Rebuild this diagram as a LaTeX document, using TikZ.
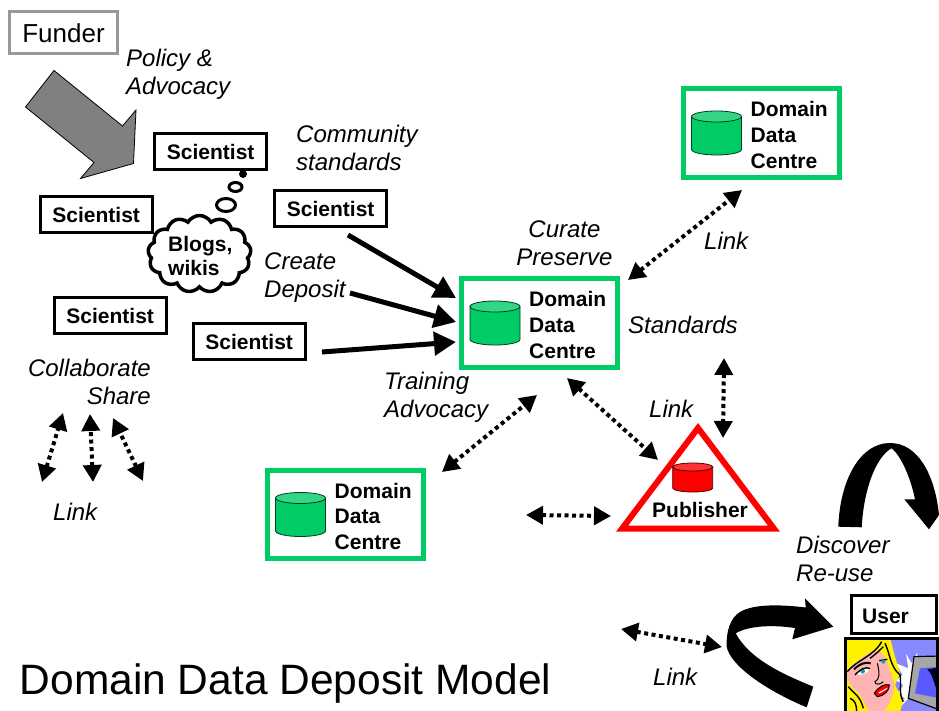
\documentclass[tikz,border=0pt]{standalone}
\usepackage{fontspec}
\setmainfont{Liberation Sans}
\usetikzlibrary{arrows.meta,shapes.symbols,shapes.geometric}
\definecolor{ddcgreen}{HTML}{00CC66}
\definecolor{ddctop}{HTML}{33D685}
\definecolor{pubred}{HTML}{FF0000}
\definecolor{pubtop}{HTML}{FF3333}
\definecolor{peri}{HTML}{8888FF}
\definecolor{skin}{HTML}{FFB4B4}
\tikzset{
  lab/.style={font=\fontsize{24}{28}\selectfont\itshape,inner sep=0pt,align=left,anchor=west},
  boldt/.style={font=\fontsize{21}{25.7}\selectfont\bfseries,inner sep=0pt,align=left},
  sci/.style={draw=black,line width=3pt,fill=white,minimum width=112pt,minimum height=36pt,inner sep=0pt,font=\fontsize{21}{24}\selectfont\bfseries},
  ddcbox/.style={draw=ddcgreen,line width=5pt,fill=white,minimum width=156pt,minimum height=88.5pt,inner sep=0pt},
  linkarrow/.style={line width=4pt,dash pattern=on 4pt off 3.5pt,{Triangle[length=17pt,width=18pt]}-{Triangle[length=17pt,width=18pt]}},
  deposit/.style={line width=5pt,-{Triangle[length=22pt,width=23pt]}},
  bubble/.style={draw=black,line width=3pt,fill=white,ellipse,inner sep=0pt},
}
\newcommand{\cylshape}[7]{% cx, top, bottom, halfwidth, ry, body, top colour
  \filldraw[fill=#6,draw=black!70!#6,line width=0.8pt]
    (#1-#4,#2) -- (#1-#4,#3) arc[x radius=#4,y radius=#5,start angle=180,end angle=0] -- (#1+#4,#2) -- cycle;
  \filldraw[fill=#7,draw=black!70!#6,line width=0.8pt] (#1,#2) ellipse[x radius=#4,y radius=#5];
}
\newcommand{\ddcnode}[3]{% name, cx, cy
  \node[ddcbox] (#1) at (#2,#3) {};
  \pgfmathsetmacro{\cylx}{#2-44.5}
  \pgfmathsetmacro{\cylt}{#3-16.5}
  \pgfmathsetmacro{\cylb}{#3+16.5}
  \cylshape{\cylx}{\cylt}{\cylb}{25}{5.5}{ddcgreen}{ddctop}
  \pgfmathsetmacro{\txtx}{#2-10.5}
  \pgfmathsetmacro{\txty}{#3+1.8}
  \node[boldt,anchor=west] (#1text) at (\txtx,\txty) {Domain\\Data\\Centre};
}
\begin{document}
\begin{tikzpicture}[x=1pt,y=-1pt]
\useasboundingbox (0,0) rectangle (939,711);
% Funder
\node[draw=black!40,line width=3pt,fill=white,minimum width=108pt,minimum height=42pt,inner sep=0pt,font=\fontsize{26}{30}\selectfont] (funder) at (63.5,33) {\raisebox{-1.5pt}{Funder}};
\filldraw[fill=black!50,draw=black,line width=0.8pt] (54,70.5) -- (25.5,107) -- (94,162.5) -- (80.5,178.5) -- (133.5,163.5) -- (136,110) -- (122.5,126) -- cycle;
\node[lab] (policy) at (126,74) {Policy \&\\Advocacy};
% Scientists
\node[sci] (s1) at (210.7,152) {\raisebox{-1pt}{Scientist}};
\node[sci] (s2) at (96.2,214.5) {\raisebox{-1pt}{Scientist}};
\node[sci] (s3) at (330.7,208.5) {\raisebox{-1pt}{Scientist}};
\node[sci] (s4) at (110.2,315.5) {\raisebox{-1pt}{Scientist}};
\node[sci] (s5) at (249.2,341.5) {\raisebox{-1pt}{Scientist}};
% Cloud
\node[cloud,cloud puffs=13,cloud puff arc=120,aspect=1.35,draw=black,line width=3.5pt,fill=white,inner sep=0pt,minimum width=103pt,minimum height=77pt] (cloud) at (199.5,254) {};
\node[boldt,anchor=west,font=\fontsize{21}{24}\selectfont\bfseries] (blogs) at (168,256) {Blogs,\\wikis};
\node[bubble,minimum width=19pt,minimum height=13pt] (b1) at (226,205) {};
\node[bubble,minimum width=13pt,minimum height=9pt] (b2) at (235.5,187) {};
\node[circle,fill=black,minimum size=8pt,inner sep=0pt] (b3) at (243,174) {};
% Labels
\node[lab] (community) at (296,148) {Community\\standards};
\node[lab,align=center,anchor=center] (curate) at (564.5,243) {Curate\\Preserve};
\node[lab] (create) at (264,278) {Create\\Deposit};
\node[lab] (standards) at (628,325) {Standards};
\node[lab] (link1) at (704,241) {Link};
\node[lab] (training) at (384,397) {Training\\Advocacy};
\node[lab] (link2) at (649,409) {Link};
\node[lab,align=right,anchor=east] (collab) at (151,382) {Collaborate\\Share};
\node[lab] (link3) at (53,512) {Link};
\node[lab] (discover) at (796,559) {Discover\\Re-use};
\node[lab] (link4) at (653,677) {Link};
\node[font=\fontsize{42.5}{48}\selectfont,inner sep=0pt,anchor=west] (title) at (19.5,684) {Domain Data Deposit Model};
% Data centres
\ddcnode{dc1}{539.5}{323}
\ddcnode{dc2}{761}{133}
\ddcnode{dc3}{345}{514.5}
% Publisher
\draw[pubred,line width=6pt,miter limit=10,fill=white] (622,528.7) -- (698,428) -- (774,528.7) -- cycle;
\cylshape{692.7}{467}{488}{20}{4}{pubred}{pubtop}
\node[boldt,anchor=center] (publisher) at (700,510) {Publisher};
% Deposit arrows
\coordinate (d1a) at (348,235); \coordinate (d1b) at (456,298);
\coordinate (d2a) at (350,293); \coordinate (d2b) at (456,322);
\coordinate (d3a) at (322,352); \coordinate (d3b) at (456,342);
\draw[deposit] (d1a) -- (d1b);
\draw[deposit] (d2a) -- (d2b);
\draw[deposit] (d3a) -- (d3b);
% Link arrows
\coordinate (l1a) at (628,280); \coordinate (l1b) at (742,190);
\coordinate (l2a) at (567,378); \coordinate (l2b) at (658,460);
\coordinate (l3a) at (442,472); \coordinate (l3b) at (537,395);
\coordinate (l4a) at (526,515); \coordinate (l4b) at (611,516);
\coordinate (l5a) at (724,358); \coordinate (l5b) at (723,438);
\coordinate (l6a) at (621,629); \coordinate (l6b) at (722,647);
\coordinate (l7a) at (42,482); \coordinate (l7b) at (63,413);
\coordinate (l8a) at (93,482); \coordinate (l8b) at (90,414);
\coordinate (l9a) at (143,481); \coordinate (l9b) at (113,418);
\foreach \p/\q in {l1a/l1b,l2a/l2b,l3a/l3b,l4a/l4b,l5a/l5b,l6a/l6b,l7a/l7b,l8a/l8b,l9a/l9b}
  \draw[linkarrow] (\p) -- (\q);
% Curved arrows
\fill[black] (838.3,526.7) .. controls (840,480) and (860,443) .. (890,443) .. controls (918,443) and (935,475) .. (939,515)
  -- (929,529.3) -- (904.3,499.3) -- (915,499.3)
  .. controls (910,475) and (900,455) .. (891.7,448.3) .. controls (878,455) and (864,485) .. (861.7,527.3) -- cycle;
\fill[black] (833.3,626.7) -- (805,598.3) -- (805.7,607.5)
  .. controls (785,605) and (755,603) .. (740,612) .. controls (730,618) and (726,632) .. (726.7,646.7)
  .. controls (730,665) and (765,690) .. (806.7,707.3)
  -- (813.3,686.7)
  .. controls (785,675) and (750,660) .. (735.7,633.3) .. controls (750,625) and (775,625) .. (795,628)
  -- (792.3,639.3) -- cycle;
% User
\node[draw=black,line width=3pt,fill=white,minimum width=85pt,minimum height=38pt,inner sep=0pt] (user) at (893.5,614.5) {};
\node[boldt,anchor=west] (usertext) at (862,616) {User};
% Clip art
\begin{scope}
\clip (844,636) rectangle (939,711);
\begin{scope}[shift={(840,630)},x=0.3333pt,y=-0.3333pt]
\fill[peri] (14,22) rectangle (300,245);
\fill[white] (168,100) -- (205,115) -- (198,72) -- (215,100) -- (232,68) -- (232,90) -- (222,110) -- (210,200) -- (180,232) -- (168,225) -- (195,205) -- (172,192) -- (190,165) -- (168,150) -- (188,135) -- cycle;
\fill[yellow] (14,22) -- (150,22) -- (165,80) -- (180,130) -- (165,165) -- (190,215) -- (180,245) -- (14,245) -- cycle;
\fill[skin] plot[smooth cycle,tension=0.7] coordinates {(22,125) (60,88) (105,62) (135,82) (150,125) (162,165) (150,215) (125,245) (90,245) (60,195) (32,165)};
% hair strokes
\draw[black,line width=1.4pt] (22,125) .. controls (50,90) and (100,80) .. (125,35);
\draw[black,line width=1.4pt] (90,85) .. controls (110,70) and (120,60) .. (130,50);
\draw[black,line width=1.4pt] (135,40) .. controls (150,70) and (150,110) .. (180,135) .. controls (185,165) and (175,190) .. (190,215);
\draw[black,line width=1.4pt] (25,170) .. controls (40,190) and (60,195) .. (70,235);
\draw[black,line width=1.4pt] (30,205) .. controls (45,210) and (50,225) .. (50,245);
% brows and eyes
\draw[black,line width=2pt] (42,118) .. controls (60,100) and (80,95) .. (92,100);
\draw[black,line width=1.4pt] (118,92) -- (142,88);
\fill[white] (50,132) .. controls (60,118) and (75,112) .. (88,118) .. controls (80,132) and (65,138) .. (50,132);
\fill[teal!70!cyan] (68,124) circle[radius=7];
\draw[black,line width=1.4pt] (45,135) .. controls (60,118) and (75,110) .. (90,115);
\fill[teal!70!cyan] (130,95) circle[radius=6];
\draw[black,line width=1pt] (112,100) .. controls (120,130) and (118,150) .. (105,155) .. controls (105,165) and (120,165) .. (130,155);
% lips
\filldraw[fill=red,draw=black,line width=1pt] (103,190) .. controls (115,170) and (135,160) .. (148,165) .. controls (150,180) and (130,200) .. (112,200) -- cycle;
\fill[white] (115,188) -- (143,173) -- (140,178) -- (118,190) -- cycle;
% monitor
\filldraw[fill=black!35,draw=black,line width=1.2pt] (205,205) -- (222,80) -- (300,78) -- (300,240) -- cycle;
\fill[blue!65!white] (240,115) -- (300,110) -- (300,205) -- (225,190) -- cycle;
\fill[black!85!blue] (262,118) .. controls (285,140) and (280,175) .. (300,190) -- (300,112) -- cycle;
\end{scope}
\draw[black,line width=3pt] (845.5,638.5) rectangle (937.5,715);
\end{scope}
\end{tikzpicture}
\end{document}
